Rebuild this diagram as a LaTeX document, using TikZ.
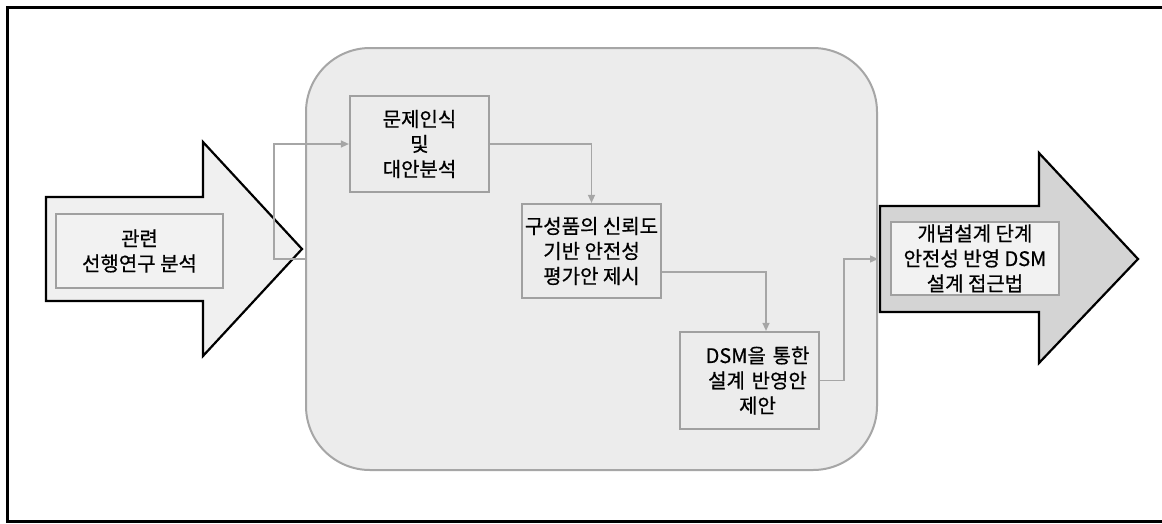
\documentclass[tikz,border=0pt]{standalone}
\usepackage{fontspec}
\setmainfont{Noto Sans CJK KR}[FakeBold=0.6]
\usetikzlibrary{arrows.meta,calc}
\definecolor{linegray}{HTML}{A6A6A6}
\definecolor{boxgray}{HTML}{A0A0A0}
\definecolor{stagefill}{HTML}{ECECEC}
\definecolor{lightfill}{HTML}{F2F2F2}
\definecolor{leftfill}{HTML}{F0F0F0}
\definecolor{rightfill}{HTML}{D4D4D4}
\begin{document}
\begin{tikzpicture}[x=1pt,y=-1pt,
  conn/.style={draw=linegray, line width=1.3pt, -{Triangle[length=8pt,width=7pt]}},
  bigarrow/.style={draw=black, line width=2.2pt, line join=miter},
  stepbox/.style={draw=boxgray, line width=2.2pt, fill=stagefill, align=center,
    font=\fontsize{20}{25}\selectfont, inner sep=0pt, minimum width=139pt},
  labelbox/.style={draw=boxgray, line width=2.2pt, fill=lightfill, align=center,
    font=\fontsize{20}{25}\selectfont, inner sep=0pt}
]
\useasboundingbox[fill=white] (0,0) rectangle (1162,523);
\draw[line width=3pt] (1175,7) -- (7,7) -- (7,521) -- (1175,521);
% big arrows
\draw[bigarrow, fill=leftfill] (46,197) -- (203,197) -- (203,142) -- (302,249) -- (203,356) -- (203,301) -- (46,301) -- cycle;
\draw[bigarrow, fill=rightfill] (880,206) -- (1039,206) -- (1039,153) -- (1138,259) -- (1039,363) -- (1039,312) -- (880,312) -- cycle;
% stage container
\node[draw=linegray, line width=2pt, fill=stagefill, rounded corners=64pt,
  minimum width=571pt, minimum height=422pt, inner sep=0pt] (stage) at (591.5,259) {};
% label boxes
\node[labelbox, minimum width=167pt, minimum height=74pt] (prior) at (139.5,251) {관련\\선행연구 분석};
\node[labelbox, minimum width=168pt, minimum height=73pt] (result) at (975,258.5) {개념설계 단계\\안전성 반영 DSM\\설계 접근법};
% steps
\node[stepbox, minimum height=96pt] (box1) at (419.5,144) {문제인식\\및\\대안분석};
\node[stepbox, minimum height=94pt] (box2) at (591.5,251) {구성품의 신뢰도\\기반 안전성\\평가안 제시};
\node[stepbox, minimum height=97pt, text width=139pt] (box3) at (749.5,380.5) {\hspace*{16pt}DSM을 통한\\\hspace*{16pt}설계 반영안\\\hspace*{16pt}제안};
% connectors
\draw[conn] (stage.west) -- ++(-31,0) |- (box1.west);
\draw[conn] (box1.east) -| (box2.north);
\draw[conn] ($(box2.east)+(0,21)$) -| ($(box3.north)+(16.5,0)$);
\draw[conn] (box3.east) -- ++(24,0) |- (stage.east);
\end{tikzpicture}
\end{document}
